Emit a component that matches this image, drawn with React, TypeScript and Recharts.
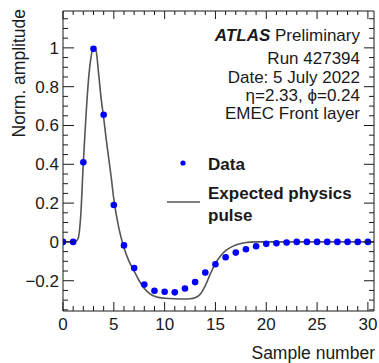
import { ComposedChart, Line, Scatter, XAxis, YAxis } from "recharts";

// Measured samples (blue dots)
const sampleX = [0, 1, 2, 3, 4, 5, 6, 7, 8, 9, 10, 11, 12, 13, 14, 15, 16, 17, 18, 19, 20, 21, 22, 23, 24, 25, 26, 27, 28, 29, 30];
const sampleY = [0, 0, 0.41, 0.995, 0.655, 0.19, -0.018, -0.135, -0.22, -0.252, -0.257, -0.26, -0.24, -0.207, -0.158, -0.115, -0.079, -0.055, -0.038, -0.022, -0.01, -0.007, -0.003, 0, 0, 0, 0, 0, 0, 0, 0];

// Expected physics pulse (grey line)
const pulseX = [0, 0.5, 1, 1.25, 1.5, 1.75, 2, 2.25, 2.5, 2.75, 3, 3.25, 3.5, 3.75, 4, 4.25, 4.5, 4.75, 5, 5.5, 6, 6.5, 7, 7.5, 8, 8.5, 9, 9.5, 10, 11, 12, 12.5, 13, 13.5, 14, 14.5, 15, 15.5, 16, 16.5, 17, 17.5, 18, 18.5, 19, 20, 25, 30.6];
const pulseY = [0, 0, 0, 0.002, 0.02, 0.14, 0.41, 0.64, 0.83, 0.95, 1.0, 0.985, 0.87, 0.74, 0.64, 0.53, 0.43, 0.33, 0.22, 0.07, -0.03, -0.1, -0.15, -0.2, -0.24, -0.265, -0.28, -0.287, -0.29, -0.293, -0.294, -0.293, -0.288, -0.27, -0.225, -0.165, -0.11, -0.072, -0.045, -0.028, -0.016, -0.008, -0.003, -0.001, 0, 0, 0, 0];

const xTicks = [0, 1, 2, 3, 4, 5, 6, 7, 8, 9, 10, 11, 12, 13, 14, 15, 16, 17, 18, 19, 20, 21, 22, 23, 24, 25, 26, 27, 28, 29, 30];
const xLabelTicks = [0, 5, 10, 15, 20, 25, 30];
const yTicks = [-0.35, -0.3, -0.25, -0.2, -0.15, -0.1, -0.05, 0, 0.05, 0.1, 0.15, 0.2, 0.25, 0.3, 0.35, 0.4, 0.45, 0.5, 0.55, 0.6, 0.65, 0.7, 0.75, 0.8, 0.85, 0.9, 0.95, 1, 1.05, 1.1, 1.15];
const yLabelTicks = [-0.2, 0, 0.2, 0.4, 0.6, 0.8, 1];

const X_DOMAIN = [0, 30.6];
const Y_DOMAIN = [-0.356, 1.19];

const FONT = "'Liberation Sans', Arial, Helvetica, sans-serif";
const INK = "#1a1a1a";

const samples = sampleX.map((x, i) => ({ x, y: sampleY[i] }));
const pulse = pulseX.map((x, i) => ({ x, y: pulseY[i] }));

const isXMajor = (v: number) => xLabelTicks.includes(v);
const isYMajor = (v: number) => yLabelTicks.some((t) => Math.abs(t - v) < 1e-6);

const fmtY = (v: number) => {
  if (Math.abs(v) < 1e-6) return "0";
  const s = String(Math.round(Math.abs(v) * 10) / 10);
  return v < 0 ? "\u2212" + s : s;
};

// tickSize=0 and tickMargin=0, so x/y passed in are the axis line position
const BottomTick = ({ x, y, payload }: any) => {
  const v = payload.value;
  const major = isXMajor(v);
  return (
    <g>
      <line x1={x} x2={x} y1={y} y2={y - (major ? 9 : 5)} stroke={INK} strokeWidth={1} />
      {major && (
        <text x={x} y={y + 19} textAnchor="middle" fontSize={17} fill={INK} fontFamily={FONT}>
          {v}
        </text>
      )}
    </g>
  );
};

const TopTick = ({ x, y, payload }: any) => {
  const major = isXMajor(payload.value);
  return <line x1={x} x2={x} y1={y} y2={y + (major ? 8 : 4)} stroke={INK} strokeWidth={1} />;
};

const LeftTick = ({ x, y, payload }: any) => {
  const v = payload.value;
  const major = isYMajor(v);
  return (
    <g>
      <line x1={x} x2={x + (major ? 11 : 5)} y1={y} y2={y} stroke={INK} strokeWidth={1} />
      {major && (
        <text x={x - 4} y={y + 6} textAnchor="end" fontSize={17} fill={INK} fontFamily={FONT}>
          {fmtY(v)}
        </text>
      )}
    </g>
  );
};

const RightTick = ({ x, y, payload }: any) => {
  const major = isYMajor(payload.value);
  return <line x1={x} x2={x - (major ? 10 : 5)} y1={y} y2={y} stroke={INK} strokeWidth={1} />;
};

const Dot = (p: any) => <circle cx={p.cx} cy={p.cy} r={3.3} fill="#0000ff" />;

export default function App() {
  return (
    <div style={{ position: "absolute", left: 0, top: 0, width: 379, height: 363, background: "#fff" }}>
      <ComposedChart width={379} height={363} margin={{ top: 10, right: 4, bottom: 0, left: 0 }}>
        <XAxis
          xAxisId="b"
          type="number"
          dataKey="x"
          domain={X_DOMAIN}
          allowDataOverflow
          ticks={xTicks}
          interval={0}
          tickSize={0}
          tickMargin={0}
          tick={BottomTick}
          axisLine={{ stroke: INK }}
          height={52}
        />
        <XAxis
          xAxisId="t"
          orientation="top"
          type="number"
          dataKey="x"
          domain={X_DOMAIN}
          allowDataOverflow
          ticks={xTicks}
          interval={0}
          tickSize={0}
          tickMargin={0}
          tick={TopTick}
          axisLine={{ stroke: INK }}
          height={1}
        />
        <YAxis
          yAxisId="l"
          type="number"
          dataKey="y"
          domain={Y_DOMAIN}
          allowDataOverflow
          ticks={yTicks}
          interval={0}
          tickSize={0}
          tickMargin={0}
          tick={LeftTick}
          axisLine={{ stroke: INK }}
          width={63}
        />
        <YAxis
          yAxisId="r"
          orientation="right"
          type="number"
          dataKey="y"
          domain={Y_DOMAIN}
          allowDataOverflow
          ticks={yTicks}
          interval={0}
          tickSize={0}
          tickMargin={0}
          tick={RightTick}
          axisLine={{ stroke: INK }}
          width={1}
        />
        {/* invisible series so the mirrored top/right frame axes get drawn */}
        <Line
          xAxisId="t"
          yAxisId="r"
          data={pulse}
          dataKey="y"
          stroke="none"
          dot={false}
          activeDot={false}
          legendType="none"
          isAnimationActive={false}
        />
        <Line
          xAxisId="b"
          yAxisId="l"
          data={pulse}
          dataKey="y"
          type="monotone"
          stroke="#555"
          strokeWidth={1.6}
          dot={false}
          activeDot={false}
          isAnimationActive={false}
        />
        <Scatter
          xAxisId="b"
          yAxisId="l"
          data={samples}
          dataKey="y"
          shape={Dot}
          isAnimationActive={false}
        />
      </ComposedChart>

      {/* titles, annotation and legend */}
      <svg
        width={379}
        height={363}
        style={{ position: "absolute", left: 0, top: 0, pointerEvents: "none" }}
        fontFamily={FONT}
        fill={INK}
      >
        <text transform="translate(25,9) rotate(-90)" textAnchor="end" fontSize={17.5}>
          Norm. amplitude
        </text>
        <text x={375} y={359} textAnchor="end" fontSize={17.5}>
          Sample number
        </text>

        <text x={360} y={41} textAnchor="end" fontSize={17}>
          <tspan fontWeight="bold" fontStyle="italic">ATLAS</tspan> Preliminary
        </text>
        <text x={360} y={64} textAnchor="end" fontSize={17}>Run 427394</text>
        <text x={360} y={83} textAnchor="end" fontSize={17}>Date: 5 July 2022</text>
        <text x={360} y={101} textAnchor="end" fontSize={17}>η=2.33, ϕ=0.24</text>
        <text x={360} y={119} textAnchor="end" fontSize={17}>EMEC Front layer</text>

        <circle cx={183} cy={163} r={2.6} fill="#0000ff" />
        <text x={208} y={170} fontSize={17} fontWeight="bold">Data</text>
        <line x1={167} x2={200} y1={202} y2={202} stroke="#555" strokeWidth={1.6} />
        <text x={208} y={199} fontSize={17} fontWeight="bold">Expected physics</text>
        <text x={208} y={221} fontSize={17} fontWeight="bold">pulse</text>
      </svg>
    </div>
  );
}
